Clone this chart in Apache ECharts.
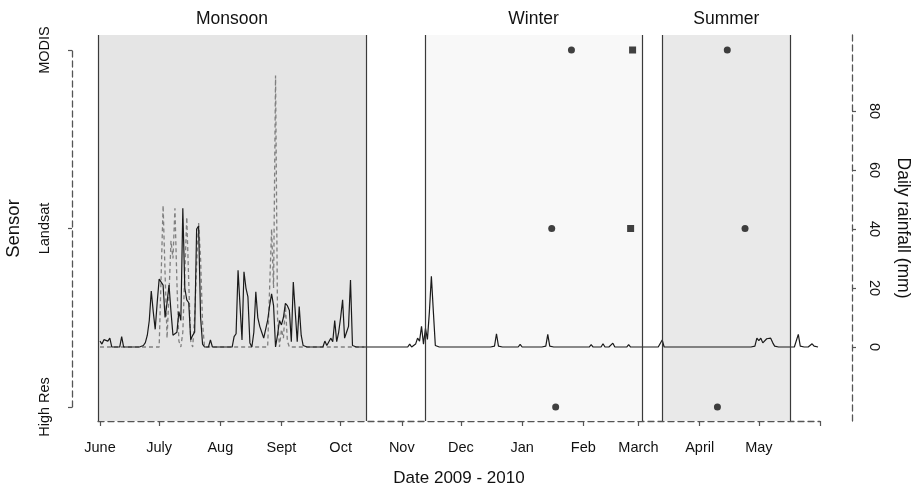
<!DOCTYPE html>
<html><head><meta charset="utf-8">
<script src="https://cdn.jsdelivr.net/npm/echarts@6/dist/echarts.min.js"></script>
<style>html,body{margin:0;padding:0;background:#fff}#c{width:914px;height:484px}</style>
</head><body><div id="c"></div>
<script>
// ---- data (day 0 = 1 June 2009) ----
const monthLabels = ['June','July','Aug','Sept','Oct','Nov','Dec','Jan','Feb','March','April','May'];
const monthStartDays = [0,30,61,92,122,153,183,214,245,273,304,334];
const axisEndDay = 365;
const rainTicks = [0,20,40,60,80];
const sensorCats = ['High Res','Landsat','MODIS'];
const seasonNames = ['Monsoon','Winter','Summer'];
const seasonStart = [-1, 164.8, 284.9];
const seasonEnd = [134.8, 274.8, 350.1];

// solid line: daily rainfall (mm)
const rainJun = [2,1,2.5,3,2,3,0,0,0,0, 0,3.5,0,0,0,0,0,0,0,0, 0,0,0.5,1.5,4,9,19,12,6,15];
const rainJul = [23,22,21,10,15,21,12,4,4,5, 12,9,47,20,16,15,2.5,4,5,40, 41,10,1,0,0,0,2.4,0,0,0, 0];
const rainAug = [0,0,0,0,0,0,0,3.5,4.5,26, 14,2.4,25.5,20,17,1.4,0,5,18.7,10, 7,5,3,3.5,9,14,18,14,0,4, 9];
const rainSep = [7.5,10,14.8,14,12.5,1.8,22,22,1.8,13.7, 4,0.5,0,0,0,0,0,0,0,0, 0,0,2,0.5,1,3,1.8,9,1.8,5];
const rainOct = [10,16,3,5,7,22.7,0.5,0,0,0, 0,0,0,0,0,0,0,0,0,0, 0,0,0,0,0,0,0,0,0,0.5, 0];
const rainNov = [0,0,0,0,1,0,0.5,1,3,2, 7,1,6.3,2.6,12,24,12,0.5,0,0, 0,0,0,0,0,0,0,0,0,0];
const rainDec = [0,0,0,0,0,0,0,0,0,0, 0,0,0,0,0,0,0,0.3,4.5,0.3, 0,0,0,0,0,0,0,0,0,0, 0.9];
const rainJan = [0,0,0,0,0,0,0,0,0,0, 0,0,0.3,4.3,0.3,0,0,0,0,0, 0,0,0,0,0,0,0,0,0,0, 0];
const rainFeb = [0,0,0,0,0.8,0,0,0,0,0, 1.1,0,0,0,0,1.3,0,0,0,0, 0,0,0,0.8,0,0,0,0];
const rainMar = [0,0,0,0,0,0.5,0,0,0,0, 0,0,2.4,0,0,0,0,0,0,0, 0,0,0,0,0,0,0,0,0,0, 0];
const rainApr = [0,0,0,0,0,0,0,0,0,0.5, 0,0,0,0,0,0,0,0,0,0, 0,0,0,0,0,0,0,0,0.3,3];
const rainMay = [2.2,3,1.4,1.2,2.8,2.5,3,1.5,0.3,0, 0,0,0,0,0,0,0,0,0,0.5, 4.3,0.3,0,0,0,0,0,1.1,0.3,0, 0];

// dashed line: second rainfall record, monsoon only
const dashJun = [0,0,0,0,0,0,0,0,0,0, 0,0,0,0,0,0,0,0,0,0, 0,0,0,0,0,0,0,0,0,0];
const dashJul = [0,0,48,25,3,18,36,30,47,22, 2,0,5,25,44,22,2,0,10,28, 42,30,8,0,0,0,0,0,0,0, 0];
const dashAug = [0,0,0,0,0,0,0,0,0,0, 0,0,0,0,0,0,0,0,0,0, 0,0,0,0,0,0,40,20,92,10, 0];
const dashSep = [6,3,14,2,0,0,0,0,0,0, 0,0,0,0,0,0,0,0,0,0, 0,0,0,0,0,0,0,0,0,0];
const dashOct = [0,0,0,0,0,0,0,0,0,0, 0,0,0];

// image acquisitions: [day, sensor index]
const circleShots = [[239,2],[318,2],[229,1],[327,1],[231,0],[313,0]];
const squareShots = [[270,2],[269,1]];

// ---- build ----
const rain = [].concat(rainJun,rainJul,rainAug,rainSep,rainOct,rainNov,rainDec,rainJan,rainFeb,rainMar,rainApr,rainMay);
const dash = [].concat(dashJun,dashJul,dashAug,dashSep,dashOct);
const tickDays = monthStartDays.concat([axisEndDay]);
const seasonColors = ['#e5e5e5','#f8f8f8','#e9e9e9'];
const FONT = 'Liberation Sans, Arial, sans-serif';
const axisCol = '#555';

const chart = echarts.init(document.getElementById('c'), null, {renderer:'canvas'});
chart.setOption({
  animation:false,
  backgroundColor:'#fff',
  grid:[
    {left:98, right:94, top:35, bottom:63, outerBoundsMode:'none', containLabel:false},
    {left:98, right:94, top:50, bottom:77, outerBoundsMode:'none', containLabel:false}
  ],
  xAxis:[
    {type:'value', gridIndex:0, min:-1, max:axisEndDay,
     name:'Date 2009 - 2010', nameLocation:'middle', nameGap:49, nameMoveOverlap:false,
     nameTextStyle:{fontFamily:FONT, fontSize:17, color:'#111'},
     axisLine:{show:true, onZero:false, lineStyle:{color:axisCol, width:1.3, type:[6,4]}},
     axisTick:{show:true, length:5, customValues:tickDays, lineStyle:{color:axisCol, width:1.2}},
     axisLabel:{show:true, customValues:monthStartDays, margin:19, fontFamily:FONT, fontSize:14.5, color:'#111',
       formatter:v=>monthLabels[monthStartDays.indexOf(v)] || ''},
     splitLine:{show:false}},
    {type:'value', gridIndex:1, min:-1, max:axisEndDay, show:false}
  ],
  yAxis:[
    {type:'value', gridIndex:0, position:'right', offset:32, min:-25.08, max:105.77,
     name:'Daily rainfall (mm)', nameLocation:'middle', nameGap:42, nameRotate:-90, nameMoveOverlap:false,
     nameTextStyle:{fontFamily:FONT, fontSize:17.5, color:'#111'},
     axisLine:{show:true, onZero:false, lineStyle:{color:axisCol, width:1.3, type:[6,4]}},
     axisTick:{show:true, length:4, customValues:rainTicks, lineStyle:{color:axisCol, width:1.2}},
     axisLabel:{show:true, customValues:rainTicks, rotate:-90, margin:14, fontFamily:FONT, fontSize:14.5, color:'#111'},
     splitLine:{show:false}},
    {type:'value', gridIndex:1, position:'left', offset:26, min:0, max:2, interval:1,
     name:'Sensor', nameLocation:'middle', nameGap:49, nameRotate:90, nameMoveOverlap:false,
     nameTextStyle:{fontFamily:FONT, fontSize:18.5, color:'#111'},
     axisLine:{show:true, onZero:false, lineStyle:{color:axisCol, width:1.3, type:[6,4]}},
     axisTick:{show:true, length:4, lineStyle:{color:axisCol, width:1.2}},
     axisLabel:{show:true, rotate:90, margin:20, fontFamily:FONT, fontSize:14.5, color:'#111',
       formatter:v=>sensorCats[v] || ''},
     splitLine:{show:false}}
  ],
  series:[
    {type:'line', xAxisIndex:0, yAxisIndex:0, z:3, symbol:'none',
     data:dash.map((v,i)=>[i,v]),
     lineStyle:{color:'#808080', width:1.3, type:[4,3]},
     markArea:{silent:true, z:1,
       label:{show:true, position:'top', distance:7, fontFamily:FONT, fontSize:17.5, color:'#111'},
       data:seasonNames.map((n,i)=>[{name:n, xAxis:seasonStart[i], itemStyle:{color:seasonColors[i]}},{xAxis:seasonEnd[i]}])},
     markLine:{silent:true, symbol:['none','none'], label:{show:false},
       lineStyle:{color:'#3a3a3a', width:1.2, type:'solid'},
       data:[].concat(seasonStart, seasonEnd).map(d=>({xAxis:d}))}
    },
    {type:'line', xAxisIndex:0, yAxisIndex:0, z:4, symbol:'none',
     data:rain.map((v,i)=>[i,v]),
     lineStyle:{color:'#1a1a1a', width:1.2}},
    {type:'scatter', xAxisIndex:1, yAxisIndex:1, z:5, symbol:'circle', symbolSize:7,
     itemStyle:{color:'#111'}, data:circleShots},
    {type:'scatter', xAxisIndex:1, yAxisIndex:1, z:5, symbol:'rect', symbolSize:7,
     itemStyle:{color:'#111'}, data:squareShots}
  ]
});
</script></body></html>
